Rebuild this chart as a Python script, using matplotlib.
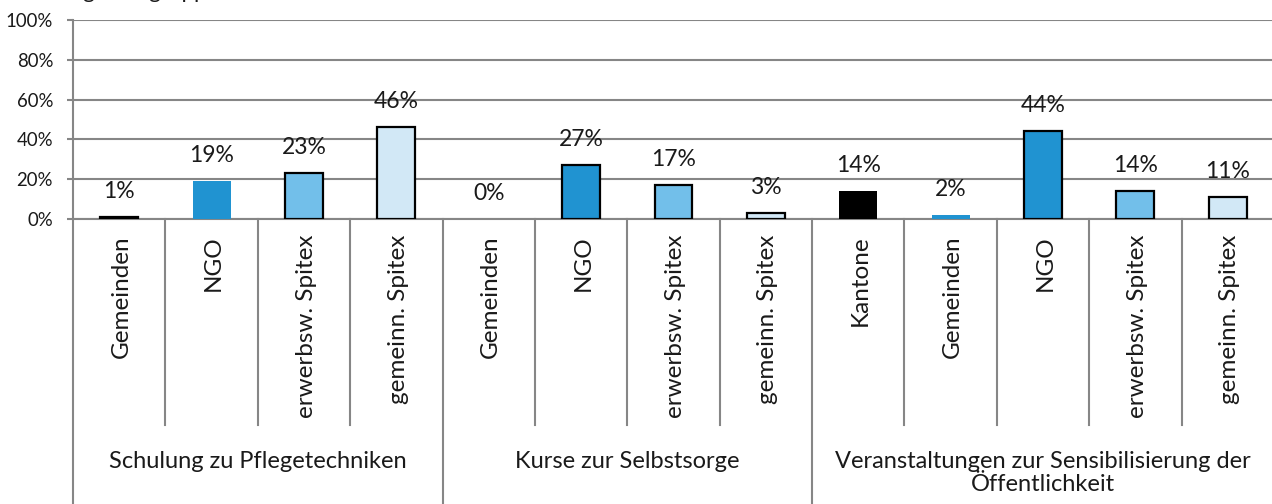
import matplotlib
matplotlib.use("Agg")
import matplotlib.pyplot as plt
from matplotlib.lines import Line2D

plt.rcParams['font.family'] = ['Lato', 'DejaVu Sans']

# ---- data ----
groups = ["Schulung zu Pflegetechniken",
          "Kurse zur Selbstsorge",
          "Veranstaltungen zur Sensibilisierung der\nÖffentlichkeit"]
group_sizes = [4, 4, 5]
categories = ["Gemeinden", "NGO", "erwerbsw. Spitex", "gemeinn. Spitex",
              "Gemeinden", "NGO", "erwerbsw. Spitex", "gemeinn. Spitex",
              "Kantone", "Gemeinden", "NGO", "erwerbsw. Spitex", "gemeinn. Spitex"]
values = [1, 19, 23, 46,
          0, 27, 17, 3,
          14, 2, 44, 14, 11]
yticks = [0, 20, 40, 60, 80, 100]
title_text = "nach Angebotsgruppe"

# ---- styles ----
BLACK = "#000000"
BLUE = "#2093D1"
LIGHT = "#72BFEA"
PALE = "#D2E8F6"
bar_colors = [BLACK, BLUE, LIGHT, PALE,
              BLACK, BLUE, LIGHT, PALE,
              BLACK, BLUE, BLUE, LIGHT, PALE]
bar_edges = [True, False, True, True,
             False, True, True, True,
             False, False, True, True, True]
GRID = "#868686"
TXT = "#1a1a1a"

W, H = 1272, 504
fig = plt.figure(figsize=(W / 100, H / 100), dpi=100)
ax_l, ax_r, ax_t, ax_b = 73, 1274, 20, 219
ax = fig.add_axes([ax_l / W, 1 - ax_b / H, (ax_r - ax_l) / W, (ax_b - ax_t) / H])

n = len(categories)
xs = list(range(n))
for x, v, c, e in zip(xs, values, bar_colors, bar_edges):
    if v > 0:
        ax.bar(x, v, width=0.41, color=c,
               edgecolor=BLACK if e else c, linewidth=1.6 if e else 0, zorder=3)
    ax.annotate(f"{v}%", xy=(x, v), xytext=(0, 11), textcoords="offset points",
                ha="center", va="bottom", fontsize=16.5, color=TXT)

ax.set_xlim(-0.5, n - 0.5)
ax.set_ylim(0, 100)
ax.set_yticks(yticks)
ax.set_yticklabels([f"{t}%" for t in yticks], fontsize=13.4, color=TXT)
ax.set_xticks([])
ax.grid(axis="y", color=GRID, linewidth=1.5, zorder=0)
ax.tick_params(axis="y", length=4.3, width=1.5, color=GRID, pad=10)
for s in ["top", "right", "left"]:
    ax.spines[s].set_visible(False)
ax.spines["bottom"].set_color(GRID)
ax.spines["bottom"].set_linewidth(1.5)

# separators
ph = ax_b - ax_t
inner_bottom = -(425 - ax_b) / ph
outer_bottom = -(H - ax_b) / ph
trans = ax.get_xaxis_transform()
bounds = [0]
for g in group_sizes:
    bounds.append(bounds[-1] + g)
group_bound_set = set(bounds)
for b in range(n + 1):
    xb = b - 0.5
    if b in group_bound_set:
        y0 = 1.0 if b == 0 else 0
        ax.add_line(Line2D([xb, xb], [y0, outer_bottom], transform=trans,
                           color=GRID, linewidth=1.5, clip_on=False))
    else:
        ax.add_line(Line2D([xb, xb], [0, inner_bottom], transform=trans,
                           color=GRID, linewidth=1.5, clip_on=False))

# category labels (vertical)
for x, lab in zip(xs, categories):
    ax.annotate(lab, xy=(x, 0), xycoords=trans, xytext=(1.5, -(235 - ax_b) * 0.72),
                textcoords="offset points", rotation=90, ha="center", va="top",
                fontsize=17.5, color=TXT)

# group labels
for i, g in enumerate(groups):
    cx = (bounds[i] + bounds[i + 1]) / 2 - 0.5
    ax.annotate(g, xy=(cx, 0), xycoords=trans, xytext=(0, -(451 - ax_b) * 0.72),
                textcoords="offset points", ha="center", va="top",
                fontsize=17, color=TXT, linespacing=1.1)

# clipped title at the very top
fig.text(3 / W, 1 + 2 / H, title_text, ha="left", va="baseline",
         fontsize=16, color=TXT)

fig.savefig("out.png", dpi=100)
